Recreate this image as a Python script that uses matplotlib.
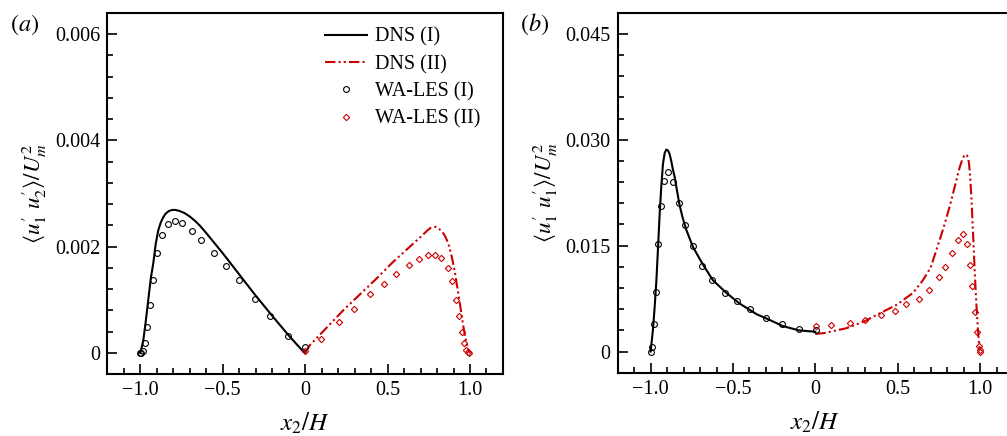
import numpy as np
import matplotlib
matplotlib.use('Agg')
import matplotlib.pyplot as plt
from matplotlib.ticker import FixedLocator, MultipleLocator

plt.rcParams['font.family'] = ['Liberation Serif', 'DejaVu Serif']
plt.rcParams['mathtext.fontset'] = 'stix'
plt.rcParams['axes.unicode_minus'] = True

ROJO = '#cc0000'

# ---- panel (a): <u1' u2'> / Um^2 ----
a_dns1_x = [-1.0, -0.99, -0.98, -0.965, -0.95, -0.935, -0.919, -0.905, -0.89, -0.875, -0.86,
            -0.845, -0.825, -0.805, -0.785, -0.76, -0.73, -0.70, -0.665, -0.636, -0.60,
            -0.55, -0.5, -0.4, -0.3, -0.2, -0.1, -0.01, 0.0]
a_dns1_y = [0.0, 0.0001, 0.00024, 0.0006, 0.001, 0.0014, 0.0017, 0.00205, 0.0023, 0.00245, 0.00255,
            0.00262, 0.00267, 0.00269, 0.00269, 0.00267, 0.00263, 0.00257, 0.00248, 0.00239, 0.00226,
            0.00207, 0.00188, 0.00148, 0.00108, 0.0007, 0.00033, 0.00002, 0.0]

a_dns2_x = [0.0, 0.03, 0.232, 0.434, 0.53, 0.636, 0.70, 0.74, 0.76, 0.778, 0.795, 0.81, 0.825,
            0.838, 0.85, 0.86, 0.87, 0.879, 0.89, 0.90, 0.91, 0.919, 0.927, 0.935, 0.943,
            0.95, 0.958, 0.965, 0.973, 0.98, 0.99, 1.0]
a_dns2_y = [0.0, 0.000145, 0.0008, 0.0014, 0.0017, 0.002, 0.00218, 0.0023, 0.00235, 0.00237, 0.00237,
            0.00234, 0.0023, 0.00225, 0.00219, 0.00212, 0.00204, 0.00194, 0.0018, 0.00165, 0.00149,
            0.00131, 0.00116, 0.001, 0.00084, 0.00068, 0.00053, 0.0004, 0.00027, 0.00018, 0.00006, 0.0]

a_les1_x = [-1.0, -0.995, -0.984, -0.970, -0.956, -0.937, -0.919, -0.895, -0.867, -0.830, -0.790,
            -0.747, -0.687, -0.630, -0.553, -0.481, -0.402, -0.301, -0.212, -0.101, -0.002]
a_les1_y = [0.0, 0.0, 0.00004, 0.00018, 0.00049, 0.0009, 0.00137, 0.00188, 0.00222, 0.00243, 0.00248,
            0.00244, 0.0023, 0.00212, 0.00187, 0.00163, 0.00137, 0.00102, 0.0007, 0.00032, 0.0001]

a_les2_x = [0.0, 0.095, 0.206, 0.297, 0.396, 0.477, 0.552, 0.628, 0.689, 0.745, 0.786,
            0.826, 0.865, 0.891, 0.915, 0.935, 0.952, 0.966, 0.976, 0.986, 0.996]
a_les2_y = [0.00004, 0.00026, 0.00058, 0.00083, 0.0011, 0.0013, 0.00148, 0.00166, 0.00177, 0.00184, 0.00184,
            0.00178, 0.0016, 0.00135, 0.001, 0.0007, 0.0004, 0.00018, 0.00005, 0.00002, 0.0]

# ---- panel (b): <u1' u1'> / Um^2 ----
b_dns1_x = [-1.0, -0.986, -0.975, -0.965, -0.955, -0.945, -0.935, -0.925, -0.915, -0.905, -0.895,
            -0.885, -0.875, -0.865, -0.854, -0.84, -0.824, -0.805, -0.783, -0.743, -0.682,
            -0.622, -0.54, -0.46, -0.358, -0.28, -0.197, -0.10, 0.0]
b_dns1_y = [0.0, 0.0031, 0.0065, 0.0101, 0.0148, 0.0196, 0.0235, 0.0266, 0.0281, 0.0286, 0.0285,
            0.028, 0.027, 0.0258, 0.0247, 0.0228, 0.0207, 0.0189, 0.0172, 0.0148, 0.0123,
            0.0101, 0.0083, 0.0068, 0.0053, 0.0045, 0.0036, 0.0030, 0.0028]

b_dns2_x = [0.0, 0.05, 0.188, 0.30, 0.39, 0.492, 0.593, 0.653, 0.70, 0.735, 0.775, 0.815,
            0.85, 0.876, 0.895, 0.905, 0.913, 0.92, 0.927, 0.933, 0.94, 0.947, 0.954, 0.961,
            0.967, 0.973, 0.98, 0.987, 0.993, 0.998]
b_dns2_y = [0.0025, 0.0026, 0.0033, 0.0043, 0.0054, 0.0066, 0.0083, 0.0101, 0.0119, 0.0144, 0.0173, 0.0205,
            0.0237, 0.0261, 0.0274, 0.0278, 0.0279, 0.0278, 0.0274, 0.0266, 0.0246, 0.0219, 0.0184, 0.0148,
            0.0115, 0.0087, 0.0057, 0.0031, 0.0013, 0.0002]

b_les1_x = [-1.0, -0.994, -0.982, -0.970, -0.953, -0.937, -0.919, -0.893, -0.866, -0.830, -0.790,
            -0.745, -0.686, -0.628, -0.551, -0.478, -0.399, -0.298, -0.205, -0.097, 0.002]
b_les1_y = [0.0, 0.0007, 0.0039, 0.0085, 0.0152, 0.0206, 0.0242, 0.0254, 0.024, 0.021, 0.0179,
            0.0149, 0.0121, 0.0101, 0.0083, 0.0071, 0.006, 0.0048, 0.0039, 0.0032, 0.0031]

b_les2_x = [0.002, 0.097, 0.208, 0.299, 0.40, 0.481, 0.552, 0.629, 0.69, 0.749, 0.789,
            0.83, 0.866, 0.894, 0.921, 0.939, 0.953, 0.971, 0.984, 0.992, 0.998, 1.0]
b_les2_y = [0.0036, 0.0038, 0.004, 0.0044, 0.0052, 0.0058, 0.0067, 0.0075, 0.0087, 0.0106, 0.012,
            0.0139, 0.0158, 0.0167, 0.0152, 0.0123, 0.0093, 0.0056, 0.0028, 0.0008, 0.0002, 0.0]

x_ticks = [-1.0, -0.5, 0.0, 0.5, 1.0]
x_ticklabels = ['\u22121.0', '\u22120.5', '0', '0.5', '1.0']
a_yticks = [0.0, 0.002, 0.004, 0.006]
a_yticklabels = ['0', '0.002', '0.004', '0.006']
b_yticks = [0.0, 0.015, 0.030, 0.045]
b_yticklabels = ['0', '0.015', '0.030', '0.045']

FS = 14.5
dashdotdot = (0, (5, 1.5, 1, 1.5, 1, 1.5))

fig = plt.figure(figsize=(10.07, 4.36), dpi=100)
ax_a = fig.add_axes([0.1063, 0.1422, 0.3932, 0.828])
ax_b = fig.add_axes([0.6134, 0.1452, 0.3926, 0.8257])


def dibujar(ax, d1x, d1y, d2x, d2y, l1x, l1y, l2x, l2y):
    ax.plot(d1x, d1y, color='black', lw=1.5, label='DNS (I)')
    ax.plot(d2x, d2y, color=ROJO, lw=1.5, linestyle=dashdotdot, label='DNS (II)')
    ax.plot(l1x, l1y, linestyle='none', marker='o', ms=4.2, mfc='none', mec='black', mew=0.8,
            label='WA-LES (I)')
    ax.plot(l2x, l2y, linestyle='none', marker='D', ms=3.2, mfc='none', mec=ROJO, mew=0.8,
            label='WA-LES (II)')


def formato(ax, yticks, ylabels, ylim, minor_y, ylabel):
    ax.set_xlim(-1.2, 1.2)
    ax.set_ylim(*ylim)
    ax.xaxis.set_major_locator(FixedLocator(x_ticks))
    ax.set_xticklabels(x_ticklabels)
    ax.xaxis.set_minor_locator(MultipleLocator(0.1))
    ax.yaxis.set_major_locator(FixedLocator(yticks))
    ax.set_yticklabels(ylabels)
    ax.yaxis.set_minor_locator(MultipleLocator(minor_y))
    ax.tick_params(which='both', direction='in', top=False, right=False, width=1.2,
                   labelsize=FS, pad=5)
    ax.tick_params(which='major', length=7)
    ax.tick_params(which='minor', length=4)
    for s in ax.spines.values():
        s.set_linewidth(1.5)
    ax.set_xlabel(r'$x_2/H$', fontsize=FS + 3.5, labelpad=8)
    ax.set_ylabel(ylabel, fontsize=FS + 2, labelpad=4)


dibujar(ax_a, a_dns1_x, a_dns1_y, a_dns2_x, a_dns2_y, a_les1_x, a_les1_y, a_les2_x, a_les2_y)
formato(ax_a, a_yticks, a_yticklabels, (-0.0004, 0.0064), 0.0004,
        r"$\langle u_1^{\prime}\ u_2^{\prime}\rangle/U_m^2$")

dibujar(ax_b, b_dns1_x, b_dns1_y, b_dns2_x, b_dns2_y, b_les1_x, b_les1_y, b_les2_x, b_les2_y)
formato(ax_b, b_yticks, b_yticklabels, (-0.003, 0.048), 0.003,
        r"$\langle u_1^{\prime}\ u_1^{\prime}\rangle/U_m^2$")

ax_a.legend(loc='upper left', bbox_to_anchor=(0.55, 0.96), frameon=False, fontsize=FS,
            handlelength=2.1, handletextpad=0.4, labelspacing=0.4, borderpad=0,
            borderaxespad=0, numpoints=1)

fig.text(0.010, 0.93, r'$(a)$', fontsize=FS + 3)
fig.text(0.516, 0.93, r'$(b)$', fontsize=FS + 3)

fig.savefig('out.png', dpi=100)
